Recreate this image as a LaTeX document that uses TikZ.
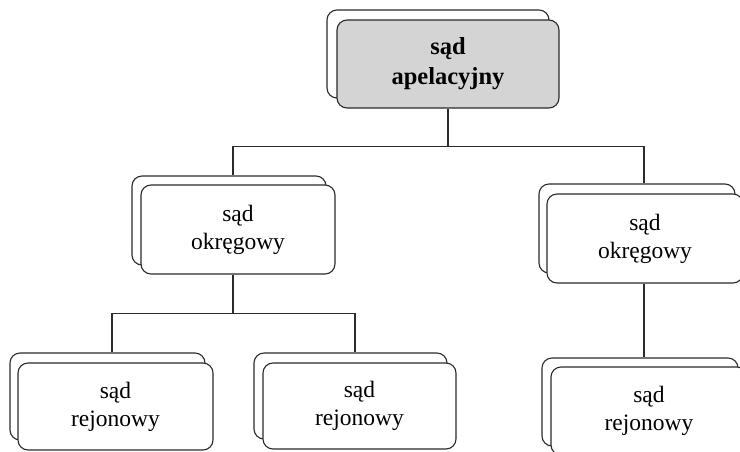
\documentclass[tikz,border=0pt]{standalone}
\usepackage{fontspec}
\setmainfont{Liberation Serif}
\usetikzlibrary{positioning}
\definecolor{ink}{HTML}{2B2B2B}
\definecolor{headfill}{HTML}{D4D4D4}
\tikzset{
  card/.style={draw=ink, line width=1.1pt, rounded corners=10pt, fill=white,
    inner sep=0pt, align=center},
  backcard/.style={card, text=white},
  labeltext/.style={font=\fontsize{23.5}{28}\selectfont},
  headtext/.style={font=\fontsize{24.5}{30}\selectfont\bfseries},
  conn/.style={draw=ink, line width=1.1pt}
}
\begin{document}
\begin{tikzpicture}[x=1pt, y=-1pt]
  \useasboundingbox (0,0) rectangle (740,451);
  \clip (0,0) rectangle (740,451);

  % court of appeal
  \node[card, minimum width=222pt, minimum height=88pt] (ap-back) at (438,54) {};
  \node[card, fill=headfill, headtext, minimum width=222pt, minimum height=88pt] (ap) at (448,64) {sąd\\apelacyjny};

  % regional courts
  \node[card, minimum width=194pt, minimum height=89pt] (okL-back) at (229,220.5) {};
  \node[card, labeltext, minimum width=194pt, minimum height=89pt] (okL) at (238,229.5) {sąd\\okręgowy};

  \node[card, minimum width=196pt, minimum height=89pt] (okR-back) at (637,228.5) {};
  \node[card, labeltext, minimum width=196pt, minimum height=89pt] (okR) at (645,238.5) {sąd\\okręgowy};

  % district courts
  \node[card, minimum width=195pt, minimum height=87pt] (rjL-back) at (107.5,396.5) {};
  \node[card, labeltext, minimum width=195pt, minimum height=87pt] (rjL) at (115.5,406.5) {sąd\\rejonowy};

  \node[card, minimum width=193pt, minimum height=86pt] (rjM-back) at (350.5,396) {};
  \node[card, labeltext, minimum width=193pt, minimum height=86pt] (rjM) at (359.5,406) {sąd\\rejonowy};

  \node[card, minimum width=196pt, minimum height=88pt] (rjR-back) at (640,402) {};
  \node[card, labeltext, minimum width=196pt, minimum height=88pt] (rjR) at (649,411) {sąd\\rejonowy};

  % entry points of the connectors on each pair of cards
  \coordinate (okL-in) at (okL-back.north -| 233,0);
  \coordinate (okR-in) at (okR-back.north -| 644,0);
  \coordinate (rjL-in) at (rjL-back.north -| 112,0);
  \coordinate (rjM-in) at (rjM-back.north -| 355,0);
  \coordinate (rjR-in) at (rjR-back.north -| 644,0);

  % connectors
  \draw[conn] (ap.south) -- ++(0,38) coordinate (ap-bus);
  \draw[conn] (okL-in) |- (ap-bus) -| (okR-in);

  \draw[conn] (okL.south -| okL-in) -- ++(0,39) coordinate (okL-bus);
  \draw[conn] (rjL-in) |- (okL-bus) -| (rjM-in);

  \draw[conn] (okR.south -| okR-in) -- (rjR-in);
\end{tikzpicture}
\end{document}
